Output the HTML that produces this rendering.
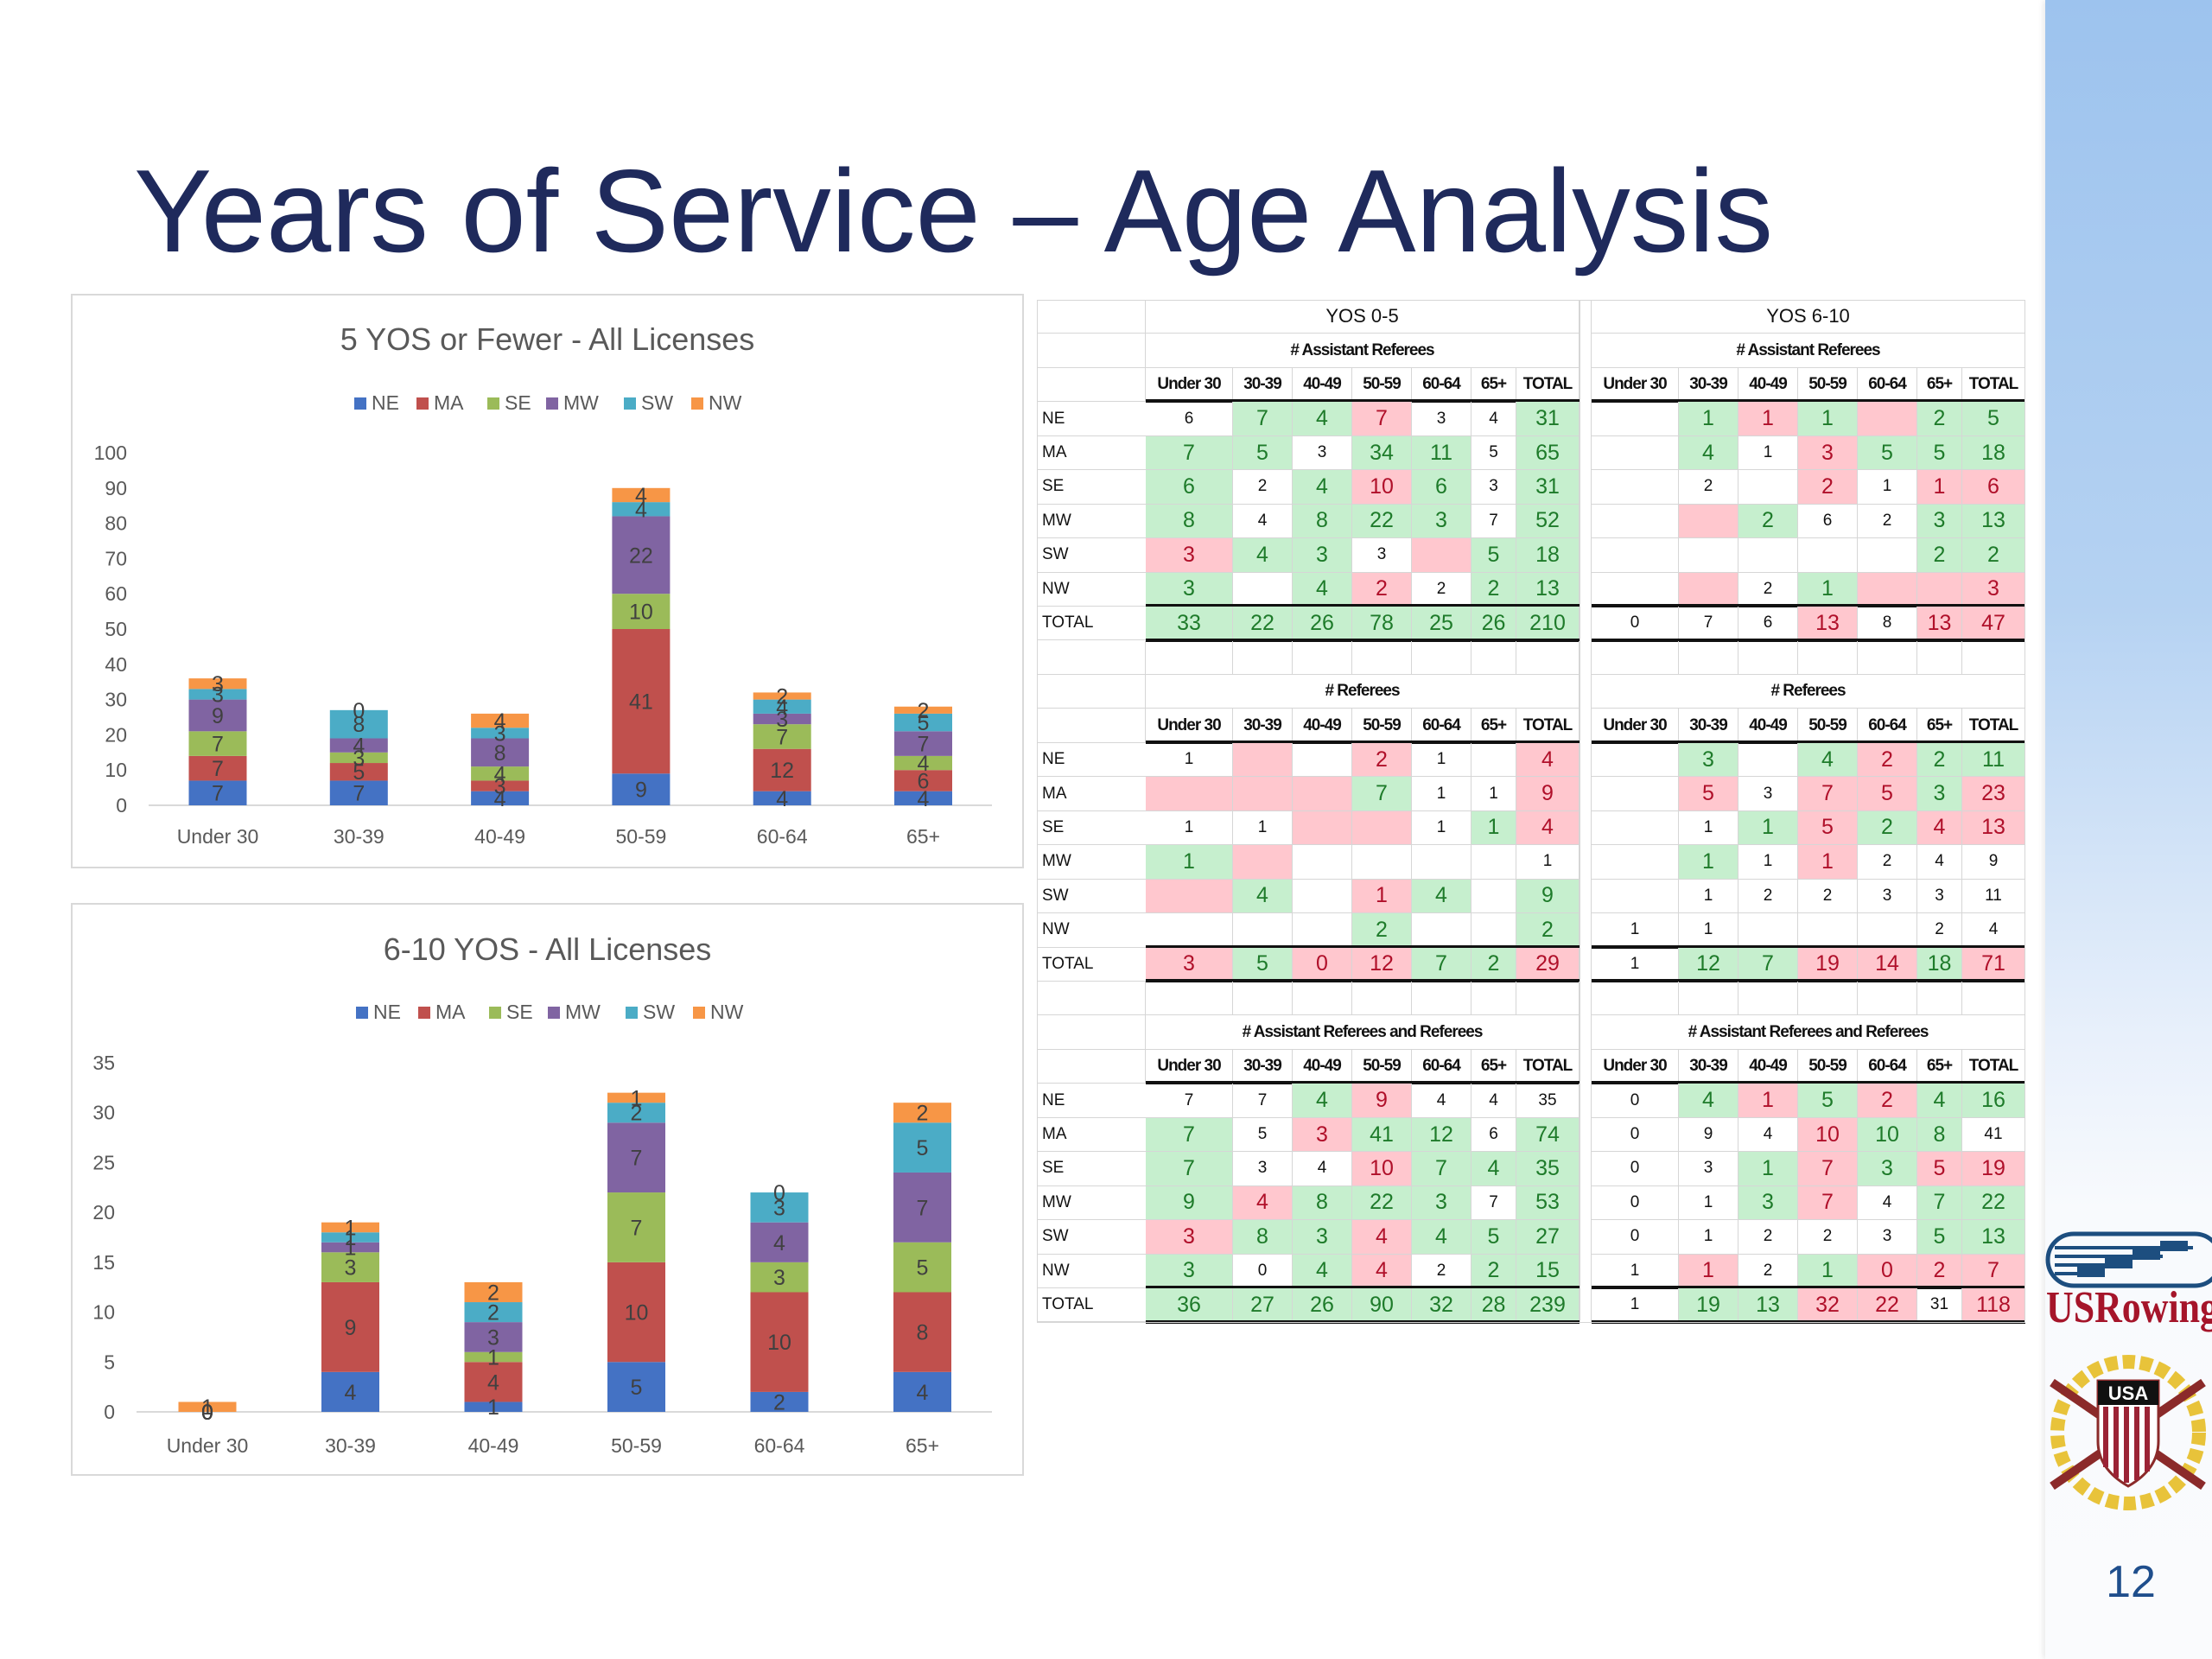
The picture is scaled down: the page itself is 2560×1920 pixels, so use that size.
<!DOCTYPE html>
<html><head><meta charset="utf-8">
<style>
html,body{margin:0;padding:0;}
body{width:2560px;height:1920px;position:relative;overflow:hidden;background:#fff;font-family:"Liberation Sans",sans-serif;}
.abs{position:absolute;}
#band{left:2367px;top:0;width:193px;height:1920px;background:linear-gradient(to bottom,#9dc3ee 0px,#b5d2f2 700px,#e8f0fb 1200px,#f8fafd 1400px,#fafbfd 1920px);box-shadow:-3px 0 6px rgba(0,0,0,0.08);}
.cell{position:absolute;box-sizing:border-box;border-right:1.5px solid #d6d6d6;border-bottom:1.5px solid #d6d6d6;display:flex;align-items:center;justify-content:center;color:#111;}
</style></head>
<body>
<div id="band" class="abs"></div>

<svg class="abs" style="left:0;top:0" width="2367" height="340">
  <text x="155" y="291" font-family="Liberation Sans, sans-serif" font-size="136" fill="#1f2a5c" textLength="1897" lengthAdjust="spacingAndGlyphs">Years of Service – Age Analysis</text>
</svg>

<svg id="chart1" class="abs" style="left:0;top:0" width="1200" height="1020"></svg>
<svg id="chart2" class="abs" style="left:0;top:0" width="1200" height="1720"></svg>

<div id="tables" class="abs" style="left:0;top:0;width:2367px;height:1600px"></div>

<svg class="abs" style="left:2360px;top:1400px" width="200" height="460">
  <rect x="10" y="28" width="200" height="60" rx="30" fill="none" stroke="#1d4e7f" stroke-width="5"/>
  <rect x="18" y="42" width="160" height="4" fill="#1d4e7f"/>
  <rect x="18" y="52" width="125" height="4" fill="#1d4e7f"/>
  <rect x="18" y="62" width="90" height="4" fill="#1d4e7f"/>
  <rect x="18" y="72" width="55" height="4" fill="#1d4e7f"/>
  <rect x="140" y="36" width="32" height="12" fill="#1d4e7f"/>
  <rect x="108" y="46" width="32" height="12" fill="#1d4e7f"/>
  <rect x="76" y="56" width="32" height="12" fill="#1d4e7f"/>
  <rect x="44" y="66" width="32" height="12" fill="#1d4e7f"/>
  <text x="8" y="130" font-family="Liberation Serif, serif" font-size="52" font-weight="bold" fill="#a5152a" textLength="200" lengthAdjust="spacingAndGlyphs">USRowing</text>
  <g>
    <circle cx="103" cy="258" r="82" fill="none" stroke="#e8c33a" stroke-width="16" stroke-dasharray="14 6"/>
    <line x1="15" y1="200" x2="190" y2="320" stroke="#8b2a2a" stroke-width="10"/>
    <line x1="190" y1="200" x2="15" y2="320" stroke="#8b2a2a" stroke-width="10"/>
    <path d="M68 198 H138 V268 Q138 300 103 320 Q68 300 68 268 Z" fill="#fff" stroke="#8b2a2a" stroke-width="3"/>
    <rect x="68" y="198" width="70" height="28" fill="#111"/>
    <text x="103" y="220" text-anchor="middle" font-family="Liberation Sans, sans-serif" font-weight="bold" font-size="22" fill="#fff">USA</text>
    <rect x="74" y="228" width="6" height="70" fill="#9b2335"/>
    <rect x="86" y="228" width="6" height="82" fill="#9b2335"/>
    <rect x="98" y="228" width="6" height="88" fill="#9b2335"/>
    <rect x="110" y="228" width="6" height="85" fill="#9b2335"/>
    <rect x="122" y="228" width="6" height="75" fill="#9b2335"/>
  </g>
  <text x="106" y="448" text-anchor="middle" font-family="Liberation Sans, sans-serif" font-size="52" fill="#1f4e8c">12</text>
</svg>

<script>
// ---------- chart data ----------
const categories = ["Under 30","30-39","40-49","50-59","60-64","65+"];
const seriesNames = ["NE","MA","SE","MW","SW","NW"];
const seriesColors = ["#4472c4","#c0504d","#9bbb59","#8064a2","#4bacc6","#f79646"];
// Chart 1: 5 YOS or fewer (per category, stacked NE..NW)
const c1NE = [7,7,4,9,4,4];
const c1MA = [7,5,3,41,12,6];
const c1SE = [7,3,4,10,7,4];
const c1MW = [9,4,8,22,3,7];
const c1SW = [3,8,3,4,4,5];
const c1NW = [3,0,4,4,2,2];
const c1Ticks = [0,10,20,30,40,50,60,70,80,90,100];
// Chart 2: 6-10 YOS
const c2NE = [0,4,1,5,2,4];
const c2MA = [0,9,4,10,10,8];
const c2SE = [0,3,1,7,3,5];
const c2MW = [0,1,3,7,4,7];
const c2SW = [0,1,2,2,3,5];
const c2NW = [1,1,2,1,0,2];
const c2Ticks = [0,5,10,15,20,25,30,35];

const NS = "http://www.w3.org/2000/svg";
function mk(svg, tag, attrs){ const e=document.createElementNS(NS,tag); for(const k in attrs) e.setAttribute(k,attrs[k]); svg.appendChild(e); return e; }

function drawChart(svg, cfg, series, ticks){
  const box = mk(svg,'rect',{x:cfg.bx,y:cfg.by,width:cfg.bw,height:cfg.bh,fill:'#fff',stroke:'#d9d9d9','stroke-width':2});
  
  
  const t = mk(svg,'text',{x:cfg.bx+cfg.bw/2,y:cfg.titleY,'text-anchor':'middle','font-size':36,fill:'#595959','font-family':'Liberation Sans, sans-serif'});
  t.textContent = cfg.title;
  
  
  const maxV = ticks[ticks.length-1];
  const yScale = v => cfg.y0 - (v/maxV)*(cfg.y0-cfg.yTop);
  const xCenter = i => cfg.x0 + i*cfg.step;
  ticks.forEach(v=>{
    const tl = mk(svg,'text',{x:cfg.tickX,y:yScale(v)+8,'text-anchor':'end','font-size':23,fill:'#595959','font-family':'Liberation Sans, sans-serif'});
    tl.textContent = v;
    
    
  });
  const ax = mk(svg,'line',{x1:cfg.axL,x2:cfg.axR,y1:cfg.y0,y2:cfg.y0,stroke:'#d9d9d9','stroke-width':2});
  
  
  seriesNames.forEach((n,s)=>{
    const lx = cfg.legX[s];
    const sq = mk(svg,'rect',{x:lx,y:cfg.legY-14,width:14,height:14,fill:seriesColors[s]});
    
    
    const lt = mk(svg,'text',{x:lx+20,y:cfg.legY,'font-size':23,fill:'#595959','font-family':'Liberation Sans, sans-serif'});
    lt.textContent = n;
    
    
  });
  categories.forEach((c,i)=>{
    let cum = 0;
    const cx = xCenter(i);
    series.forEach((arr,s)=>{
      const v = arr[i];
      const yA = yScale(cum), yB = yScale(cum+v);
      const r = mk(svg,'rect',{x:cx-cfg.bw2/2,y:yB,width:cfg.bw2,height:Math.max(0,yA-yB),fill:seriesColors[s]});
      
      
      cum += v;
    });
    cum = 0;
    series.forEach((arr,s)=>{
      const v = arr[i];
      const yA = yScale(cum), yB = yScale(cum+v);
      const dl = mk(svg,'text',{x:cx,y:(yA+yB)/2+9,'text-anchor':'middle','font-size':25,fill:'#404040','font-family':'Liberation Sans, sans-serif'});
      dl.textContent = v;
      
      
      cum += v;
    });
    const xl = mk(svg,'text',{x:cx,y:cfg.xlabY,'text-anchor':'middle','font-size':23,fill:'#595959','font-family':'Liberation Sans, sans-serif'});
    xl.textContent = c;
    
    
  });
}

drawChart(document.getElementById('chart1'),
  {bx:83,by:341,bw:1101,bh:663,title:'5 YOS or Fewer - All Licenses',titleY:405,legY:474,legX:[410,482,564,632,722,800],
   y0:932,yTop:524,tickX:147,axL:172,axR:1148,x0:252,step:163.3,bw2:67,xlabY:976},
  [c1NE,c1MA,c1SE,c1MW,c1SW,c1NW], c1Ticks);
drawChart(document.getElementById('chart2'),
  {bx:83,by:1046,bw:1101,bh:661,title:'6-10 YOS - All Licenses',titleY:1111,legY:1179,legX:[412,484,566,634,724,802],
   y0:1634,yTop:1230,tickX:133,axL:158,axR:1148,x0:240,step:165.5,bw2:67,xlabY:1681},
  [c2NE,c2MA,c2SE,c2MW,c2SW,c2NW], c2Ticks);

// ---------- tables ----------
const tAR05 = [
 ["6w","7g","4g","7r","3w","4w","31g"],
 ["7g","5g","3w","34g","11g","5w","65g"],
 ["6g","2w","4g","10r","6g","3w","31g"],
 ["8g","4w","8g","22g","3g","7w","52g"],
 ["3r","4g","3g","3w","r","5g","18g"],
 ["3g","w","4g","2r","2w","2g","13g"],
 ["33g","22g","26g","78g","25g","26g","210g"]];
const tAR610 = [
 ["w","1g","1r","1g","r","2g","5g"],
 ["w","4g","1w","3r","5g","5g","18g"],
 ["w","2w","w","2r","1w","1r","6r"],
 ["w","r","2g","6w","2w","3g","13g"],
 ["w","w","w","w","w","2g","2g"],
 ["w","r","2w","1g","r","r","3r"],
 ["0w","7w","6w","13r","8w","13r","47r"]];
const tR05 = [
 ["1w","r","w","2r","1w","w","4r"],
 ["r","r","r","7g","1w","1w","9r"],
 ["1w","1w","r","r","1w","1g","4r"],
 ["1g","r","w","w","w","w","1w"],
 ["r","4g","w","1r","4g","w","9g"],
 ["w","w","w","2g","w","w","2g"],
 ["3r","5g","0r","12r","7g","2g","29r"]];
const tR610 = [
 ["w","3g","w","4g","2r","2g","11g"],
 ["w","5r","3w","7r","5r","3g","23r"],
 ["w","1w","1g","5r","2g","4r","13r"],
 ["w","1g","1w","1r","2w","4w","9w"],
 ["w","1w","2w","2w","3w","3w","11w"],
 ["1w","1w","w","w","w","2w","4w"],
 ["1w","12g","7g","19r","14r","18g","71r"]];
const tB05 = [
 ["7w","7w","4g","9r","4w","4w","35w"],
 ["7g","5w","3r","41g","12g","6w","74g"],
 ["7g","3w","4w","10r","7g","4g","35g"],
 ["9g","4r","8g","22g","3g","7w","53g"],
 ["3r","8g","3g","4r","4g","5g","27g"],
 ["3g","0w","4g","4r","2w","2g","15g"],
 ["36g","27g","26g","90g","32g","28g","239g"]];
const tB610 = [
 ["0w","4g","1r","5g","2r","4g","16g"],
 ["0w","9w","4w","10r","10g","8g","41w"],
 ["0w","3w","1g","7r","3g","5r","19r"],
 ["0w","1w","3g","7r","4w","7g","22g"],
 ["0w","1w","2w","2w","3w","5g","13g"],
 ["1w","1r","2w","1g","0r","2r","7r"],
 ["1w","19g","13g","32r","22r","31w","118r"]];
const rowLabels = ["NE","MA","SE","MW","SW","NW","TOTAL"];
const colLabels = ["Under 30","30-39","40-49","50-59","60-64","65+","TOTAL"];
const colW = [101,69,69,69,69,52,73];
const RH = 39.45, TOP = 347, LX = 1200, BL = 1326, BR = 1842;
const host = document.getElementById('tables');

function cellDiv(x,y,w,h,txt,cls,opts){
  const d = document.createElement('div');
  d.className='cell';
  d.style.left=x+'px'; d.style.top=y+'px'; d.style.width=w+'px'; d.style.height=h+'px';
  d.textContent = txt;
  if(cls==='g'){ d.style.background='#c6efce'; d.style.color='#1e7b2a'; d.style.fontSize='25px'; }
  else if(cls==='r'){ d.style.background='#ffc7ce'; d.style.color='#b0102a'; d.style.fontSize='25px'; }
  else { d.style.fontSize=(opts&&opts.fs)||'19px'; }
  if(opts&&opts.bold) d.style.fontWeight='bold';
  if(opts&&opts.left){ d.style.justifyContent='flex-start'; d.style.paddingLeft='6px'; }
  if(opts&&opts.scale){ d.style.letterSpacing='-1px'; }
  host.appendChild(d);
  return d;
}
function hline(x,y,w,t){ const d=document.createElement('div'); d.className='abs'; d.style.cssText=`left:${x}px;top:${y}px;width:${w}px;height:${t}px;background:#111;`; host.appendChild(d);
    }

const blockW = colW.reduce((a,b)=>a+b,0);
function section(rowStart, title, dataL, dataR, addBlank){
  let y = TOP + rowStart*RH;
  let e;
  e = cellDiv(LX,y,BL-LX,RH,'','w');  
  e = cellDiv(BL,y,blockW,RH,title,'w',{bold:true,fs:'19px',scale:true});  
  e = cellDiv(BR,y,blockW,RH,title,'w',{bold:true,fs:'19px',scale:true});  
  y += RH;
  e = cellDiv(LX,y,BL-LX,RH,'','w');  
  [BL,BR].forEach(bx=>{
    let x=bx;
    colLabels.forEach((c,j)=>{ const h=cellDiv(x,y,colW[j],RH,c,'w',{bold:true,fs:'19px',scale:true});
        x+=colW[j]; });
  });
  hline(BL,y+RH-3,blockW,4); hline(BR,y+RH-3,blockW,4);
  for(let r=0;r<7;r++){
    y += RH;
    e = cellDiv(LX,y,BL-LX,RH,rowLabels[r],'w',{left:true,fs:'19px'});
    e.style.borderRight='none';
     
    [[BL,dataL],[BR,dataR]].forEach(([bx,data])=>{
      let x=bx;
      data[r].forEach((code,j)=>{
        const cls = code.slice(-1), val = code.slice(0,-1);
        const c = cellDiv(x,y,colW[j],RH,val,cls);
        
        
        x+=colW[j];
      });
    });
    if(r===5 || r===6){ hline(BL,y+RH-3,blockW,4); hline(BR,y+RH-3,blockW,4); }
  }
  if(!addBlank) return;
  y += RH;
  e = cellDiv(LX,y,BL-LX,RH,'','w');  
  [BL,BR].forEach(bx=>{ let x=bx; colW.forEach(w=>{ const b=cellDiv(x,y,w,RH,'','w');   x+=w; }); });
}
let e0;
e0 = cellDiv(LX,TOP,BL-LX,RH,'','w');  
e0 = cellDiv(BL,TOP,blockW,RH,'YOS 0-5','w',{fs:'22px'});  
e0 = cellDiv(BR,TOP,blockW,RH,'YOS 6-10','w',{fs:'22px'});  
section(1,'# Assistant Referees',tAR05,tAR610,true);
section(11,'# Referees',tR05,tR610,true);
section(21,'# Assistant Referees and Referees',tB05,tB610,false);
const gap=document.createElement('div'); gap.className='abs';
gap.style.cssText=`left:${BL+blockW}px;top:${TOP}px;width:${BR-BL-blockW}px;height:${30*RH}px;background:#fff;border-left:1.5px solid #d6d6d6;border-right:1.5px solid #d6d6d6;box-sizing:border-box;`;
 
host.appendChild(gap);
const outer=document.createElement('div'); outer.className='abs';
outer.style.cssText=`left:${LX}px;top:${TOP}px;width:${BR+blockW-LX}px;height:${30*RH}px;border:1.5px solid #d6d6d6;box-sizing:border-box;pointer-events:none;`;
 
host.appendChild(outer);
</script>
</body></html>
